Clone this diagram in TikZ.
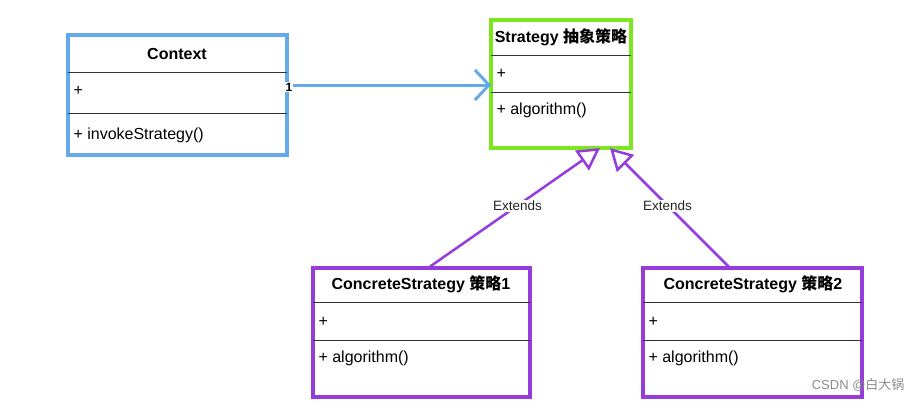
\documentclass[tikz,border=0pt]{standalone}
\usepackage{fontspec}
\setmainfont{Liberation Sans}
\newfontfamily\cjk{Noto Sans CJK SC}
\usetikzlibrary{arrows.meta}
\definecolor{cblue}{RGB}{100,170,235}
\definecolor{cgreen}{RGB}{125,230,30}
\definecolor{cpurple}{RGB}{150,60,220}
\begin{document}
\begin{tikzpicture}[x=1pt,y=-1pt,
  box/.style={line width=3.5pt},
  sep/.style={line width=0.6pt,black!80},
  ttl/.style={font=\fontsize{16}{18}\selectfont\bfseries},
  row/.style={anchor=west,font=\fontsize{16}{18}\selectfont},
  lbl/.style={font=\fontsize{13.5}{15}\selectfont,fill=white,inner sep=1pt,text=black!85}]
\useasboundingbox (0,0) rectangle (922,402);
% Context
\draw[box,cblue] (68,35) rectangle (287,155);
\draw[sep] (68,72) -- (287,72); \draw[sep] (68,113) -- (287,113);
\node[ttl] (ctxT) at (177,54) {Context};
\node[row] (ctxA) at (70,91) {+};
\node[row] (ctxB) at (70,135) {+ invokeStrategy()};
\coordinate (ctxR) at (287,85);
% Strategy
\draw[box,cgreen] (491,20) rectangle (631,148);
\draw[sep] (491,55) -- (631,55); \draw[sep] (491,92) -- (631,92);
\node[ttl] (stT) at (561,37) {Strategy {\cjk 抽象策略}};
\node[row] (stA) at (493,74) {+};
\node[row] (stB) at (493,110) {+ algorithm()};
\coordinate (stL) at (491,85);
\coordinate (stB1) at (600,148);
\coordinate (stB2) at (610,148);
% Concrete 1
\draw[box,cpurple] (313,268) rectangle (530,397);
\draw[sep] (313,302) -- (530,302); \draw[sep] (313,340) -- (530,340);
\node[ttl] (c1T) at (421,284) {ConcreteStrategy {\cjk 策略}1};
\node[row] (c1A) at (315,322) {+};
\node[row] (c1B) at (315,358) {+ algorithm()};
\coordinate (c1top) at (428,268);
% Concrete 2
\draw[box,cpurple] (643,268) rectangle (862,397);
\draw[sep] (643,302) -- (862,302); \draw[sep] (643,340) -- (862,340);
\node[ttl] (c2T) at (753,284) {ConcreteStrategy {\cjk 策略}2};
\node[row] (c2A) at (645,322) {+};
\node[row] (c2B) at (645,358) {+ algorithm()};
\coordinate (c2top) at (730,268);
% connectors
\draw[cblue,line width=3pt,-{Straight Barb[length=14pt,width=30pt,line width=3pt]}] (ctxR) -- (stL);
\node[font=\fontsize{12}{14}\selectfont\bfseries,fill=white,inner sep=1pt] (one) at (289,87) {1};
\draw[cpurple,line width=2.5pt,-{Triangle[open,length=22pt,width=24pt,line width=2.5pt]}] (c1top) -- node[lbl,pos=0.52] {Extends} (stB1);
\draw[cpurple,line width=2.5pt,-{Triangle[open,length=22pt,width=24pt,line width=2.5pt]}] (c2top) -- node[lbl,pos=0.52] {Extends} (stB2);
\node[font=\fontsize{13}{15}\selectfont,text=black!45,anchor=east] (wm) at (908,385) {CSDN @{\cjk 白大锅}};
\end{tikzpicture}
\end{document}
